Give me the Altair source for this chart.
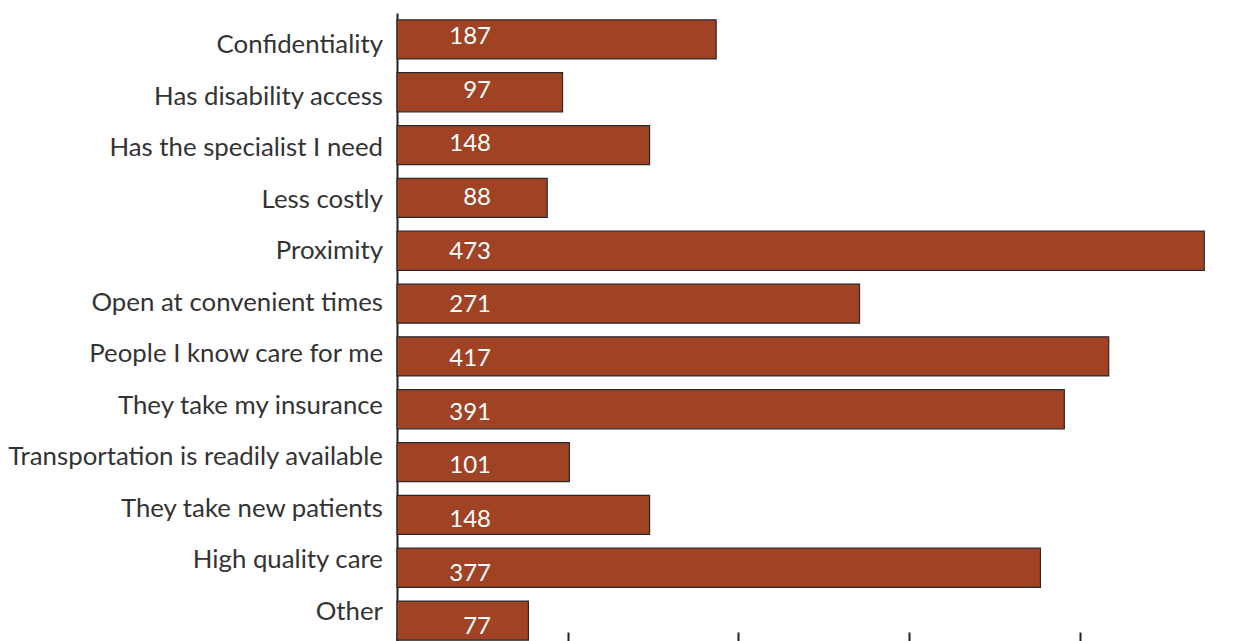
import altair as alt
import pandas as pd

categories = [
    "Confidentiality",
    "Has disability access",
    "Has the specialist I need",
    "Less costly",
    "Proximity",
    "Open at convenient times",
    "People I know care for me",
    "They take my insurance",
    "Transportation is readily available",
    "They take new patients",
    "High quality care",
    "Other",
]
counts = [187, 97, 148, 88, 473, 271, 417, 391, 101, 148, 377, 77]
tick_values = [0, 100, 200, 300, 400]

df = pd.DataFrame({"reason": categories, "count": counts})

FONT = "Lato"
DARK = "#222222"

y_enc = alt.Y(
    "reason:N",
    sort=categories,
    title=None,
    scale=alt.Scale(paddingInner=0.26, paddingOuter=0.13),
    axis=alt.Axis(
        orient="left",
        domain=True,
        domainColor=DARK,
        domainWidth=2,
        ticks=False,
        labels=False,
        grid=False,
    ),
)

x_enc = alt.X(
    "count:Q",
    title=None,
    scale=alt.Scale(domain=[0, 491], nice=False),
    axis=alt.Axis(
        orient="bottom",
        values=tick_values,
        labels=False,
        domain=False,
        grid=False,
        ticks=True,
        tickSize=16,
        tickWidth=2,
        tickColor=DARK,
        offset=-15,
    ),
)

bars = alt.Chart(df).mark_bar(
    color="#A04224", stroke="#2a2a2a", strokeWidth=1.2
).encode(y=y_enc, x=x_enc)

base = alt.Chart(df).transform_window(idx="row_number()")

# category labels (left of the axis); slight drift as in the source figure
cat_labels = base.mark_text(
    align="right", baseline="middle", dx=-14,
    dy=alt.expr("6 - 1.33 * (datum.idx - 1)"),
    color="#333333", font=FONT, fontSize=25.8
).encode(
    y=alt.Y("reason:N", sort=categories, title=None),
    x=alt.X(datum=0, title=None),
    text="reason:N",
)

# value labels inside bars
val_labels = base.mark_text(
    align="right", baseline="middle", dx=94,
    dy=alt.expr("-2.4 + 0.83 * (datum.idx - 1)"),
    color="white", font=FONT, fontSize=24
).encode(
    y=alt.Y("reason:N", sort=categories, title=None),
    x=alt.X(datum=0, title=None),
    text="count:Q",
)

chart = (
    alt.layer(bars, cat_labels, val_labels)
    .properties(
        width=838,
        height=634,
        background="white",
        autosize=alt.AutoSizeParams(type="none"),
        padding={"left": 389, "top": 5, "right": 0, "bottom": 0},
    )
    .configure_view(stroke=None, strokeWidth=0)
)

chart.save("out.html", embed_options={"renderer": "svg", "actions": False})
